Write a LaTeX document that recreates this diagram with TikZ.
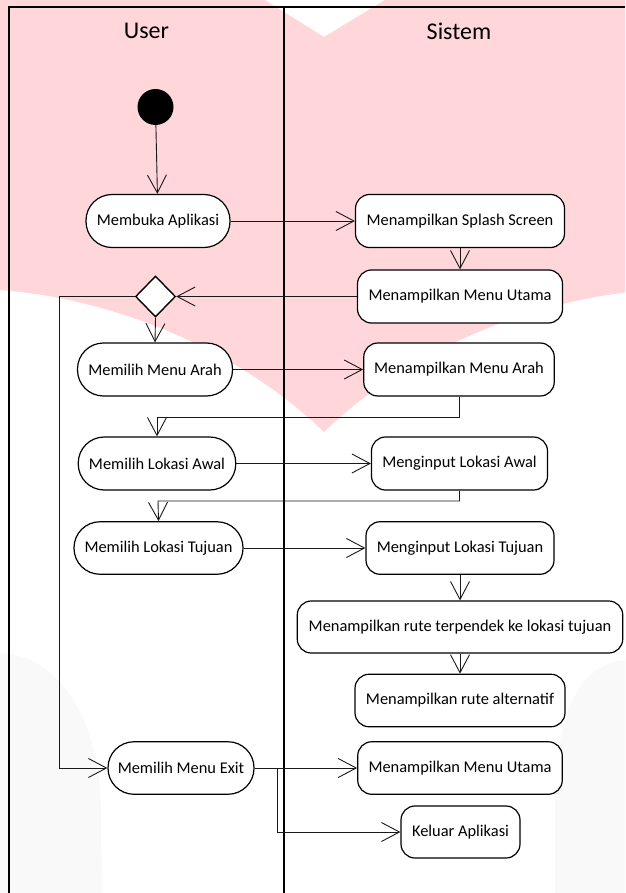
\documentclass[tikz,border=0pt]{standalone}
\usepackage{fontspec}
\setmainfont{Carlito}
\usetikzlibrary{arrows.meta,shapes.geometric}
\definecolor{wmpink}{RGB}{255,214,218}
\definecolor{wmgray}{RGB}{249,249,249}
\begin{document}
\begin{tikzpicture}[x=1pt,y=-1pt,
  act/.style={draw=black, line width=1.2pt, fill=white, inner sep=0pt,
    font=\fontsize{16.4}{19}\selectfont},
  useract/.style={act, rounded corners=26pt},
  sysact/.style={act, rounded corners=14pt},
  conn/.style={line width=0.9pt, draw=black!90},
  arr/.style={conn, -{Straight Barb[length=18pt,width=19pt]}},
  lane/.style={line width=2pt, draw=black},
  lanetitle/.style={font=\fontsize{24}{28}\selectfont}
]
\useasboundingbox (0,0) rectangle (625,893);
% watermark background
\begin{scope}
  \clip (0,0) rectangle (625,893);
  \fill[wmpink] (0,0) -- (265,0) -- (324,37) -- (385,0) -- (650,0) -- (650,290)
    .. controls (518,300) and (398,360) .. (324,432)
    .. controls (250,360) and (130,300) .. (0,290) -- cycle;
  \fill[wmgray] (0,653) .. controls (60,655) and (100,720) .. (101,810)
    -- (102,893) -- (0,893) -- cycle;
  \fill[wmgray] (625,660) .. controls (575,665) and (556,720) .. (555,800)
    -- (555,893) -- (625,893) -- cycle;
\end{scope}
% swimlanes
\draw[lane] (9,893) -- (9,7) -- (625,7);
\draw[lane] (284,7) -- (284,893);
\node[lanetitle] (tuser) at (146.5,31) {User};
\node[lanetitle] (tsys) at (459,31) {Sistem};
% nodes
\node[circle, fill=black, inner sep=0pt, minimum size=36pt] (start) at (155.5,107) {};
\node[useract, minimum width=144pt, minimum height=53pt] (membuka) at (158,221) {Membuka Aplikasi};
\node[sysact, minimum width=209pt, minimum height=53pt] (splash) at (460,221) {Menampilkan Splash Screen};
\node[sysact, minimum width=205pt, minimum height=53pt] (utama1) at (460,296.5) {Menampilkan Menu Utama};
\node[diamond, draw=black, line width=1.4pt, fill=white, inner sep=0pt,
      minimum width=40pt, minimum height=41pt] (dec) at (155.5,296.5) {};
\node[useract, minimum width=155pt, minimum height=53pt] (arah) at (155,369.5) {Memilih Menu Arah};
\node[sysact, minimum width=190.5pt, minimum height=53pt] (tarah) at (459,369.5) {Menampilkan Menu Arah};
\node[useract, minimum width=157.5pt, minimum height=53pt] (awal) at (157,463.5) {Memilih Lokasi Awal};
\node[sysact, minimum width=176pt, minimum height=53pt] (iawal) at (459.5,463.5) {Menginput Lokasi Awal};
\node[useract, minimum width=169pt, minimum height=52.5pt] (tujuan) at (158.5,548) {Memilih Lokasi Tujuan};
\node[sysact, minimum width=188pt, minimum height=52.5pt] (itujuan) at (460,548) {Menginput Lokasi Tujuan};
\node[sysact, minimum width=325.5pt, minimum height=52pt] (rute) at (460,627) {Menampilkan rute terpendek ke lokasi tujuan};
\node[sysact, minimum width=210pt, minimum height=52.5pt] (alt) at (460,700.5) {Menampilkan rute alternatif};
\node[useract, minimum width=146pt, minimum height=52.5pt] (exit) at (181,768) {Memilih Menu Exit};
\node[sysact, minimum width=204.5pt, minimum height=52.5pt] (utama2) at (460,768) {Menampilkan Menu Utama};
\node[sysact, minimum width=119pt, minimum height=52pt] (keluar) at (460.5,832) {Keluar Aplikasi};
% helper coordinates
\coordinate (loopc) at (59,296.5);
\coordinate (c1) at (157,417.7);
\coordinate (c2) at (158,501);
\coordinate (c3) at (277,768);
% connectors
\draw[arr] (start) -- (membuka);
\draw[arr] (membuka) -- (splash);
\draw[arr] (splash) -- (utama1);
\draw[arr] (utama1.west) -- (dec.east);
\draw[arr] (dec.south) -- (arah.north);
\draw[arr] (dec.west) -- (loopc) |- (exit.west);
\draw[arr] (arah) -- (tarah);
\draw[arr] (tarah.south) |- (c1) -- (awal.north);
\draw[arr] (awal) -- (iawal);
\draw[arr] (iawal.south) |- (c2) -- (tujuan.north);
\draw[arr] (tujuan) -- (itujuan);
\draw[arr] (itujuan) -- (rute);
\draw[arr] (rute) -- (alt);
\draw[arr] (exit) -- (utama2);
\draw[arr] (c3) |- (keluar.west);
\end{tikzpicture}
\end{document}
